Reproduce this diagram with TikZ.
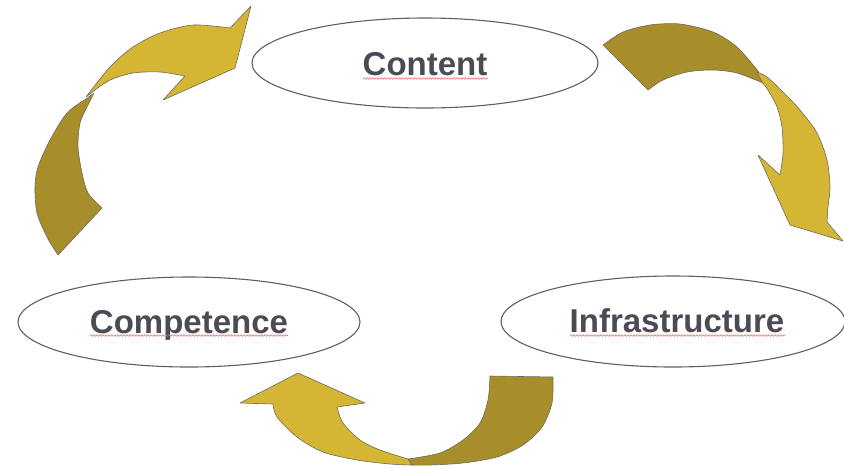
\documentclass[tikz,border=0pt]{standalone}
\usepackage{fontspec}
\setmainfont{Liberation Sans}
\usetikzlibrary{shapes.geometric,decorations.pathmorphing}
\definecolor{goldlight}{RGB}{213,182,52}
\definecolor{golddark}{RGB}{167,142,43}
\definecolor{arrowline}{RGB}{110,106,92}
\definecolor{ellline}{RGB}{95,95,95}
\definecolor{labelgray}{RGB}{75,75,85}
\definecolor{squigred}{RGB}{232,110,110}
\tikzset{
  lightpart/.style={fill=goldlight,draw=arrowline,line width=0.6pt,line join=round},
  darkpart/.style={fill=golddark,draw=arrowline,line width=0.6pt,line join=round},
  ell/.style={ellipse,draw=ellline,line width=1.1pt,fill=white,inner sep=0pt},
  lbl/.style={anchor=base,inner sep=0pt,text=labelgray,font=\fontsize{33}{36}\selectfont\bfseries},
  squig/.style={draw=squigred,line width=0.6pt,decorate,decoration={snake,amplitude=0.8pt,segment length=3pt}}
}
\begin{document}
\begin{tikzpicture}[x=1pt,y=-1pt]
\useasboundingbox (0,0) rectangle (844,467);
% arrow 1 (left, going up to Content)
\path[darkpart] (86,99) -- plot[smooth] coordinates {(86,99) (67,113) (50,140) (38,167) (35,187) (37,213) (47,237) (58,255)}
  -- (102,208) -- plot[smooth] coordinates {(102,208) (88,193) (82,173) (78,147) (80,123) (87,107) (94,93)} -- cycle;
\path[lightpart] (86,97) -- plot[smooth] coordinates {(86,97) (110,67) (133,47) (160,33) (193,25) (230,28)}
  -- (251,6) -- (235,68) -- (163,100) -- (185,76)
  -- plot[smooth] coordinates {(185,76) (160,72) (133,73) (110,80) (95,90)} -- cycle;
% arrow 2 (right, going down to Infrastructure)
\path[darkpart] (603,45) -- plot[smooth] coordinates {(603,45) (623,32) (650,25) (680,24) (713,32) (737,47) (758,71)}
  -- (763,83) -- plot[smooth] coordinates {(763,83) (737,73) (713,70) (687,72) (663,80) (648,90)} -- cycle;
\path[lightpart] (757,72) -- plot[smooth] coordinates {(757,72) (767,77) (783,92) (800,110) (817,133) (827,160) (830,187) (828,207) (827,222)}
  -- (843,241) -- (790,225) -- (758,155) -- (780,175)
  -- plot[smooth] coordinates {(780,175) (783,153) (782,127) (777,107) (768,90) (762,82)} -- cycle;
% arrow 3 (bottom, going left to Competence)
\path[darkpart] (408,459) -- plot[smooth] coordinates {(408,459) (440,453) (463,440) (480,423) (488,400) (490,376)}
  -- (553,377) -- plot[smooth] coordinates {(553,377) (552,403) (542,427) (523,445) (497,457) (463,463) (430,465) (412,465)} -- cycle;
\path[lightpart] (298,373) -- (365,403) -- (337,407)
  -- plot[smooth] coordinates {(337,407) (343,423) (360,440) (380,450) (408,459)}
  -- (412,465) -- plot[smooth] coordinates {(412,465) (390,464) (357,460) (323,452) (297,437) (277,417) (273,404)}
  -- (240,403) -- cycle;
% ellipses
\node[ell,minimum width=346pt,minimum height=90pt] (content) at (425,63) {};
\node[ell,minimum width=342pt,minimum height=90pt] (competence) at (189,322) {};
\node[ell,minimum width=344pt,minimum height=91pt] (infra) at (673,321.5) {};
% labels
\node[lbl] (contentlbl) at (425,75) {Content};
\node[lbl] (competencelbl) at (189,333) {Competence};
\node[lbl] (infralbl) at (677,332) {Infrastructure};
% spell-check squiggles
\coordinate (sq1a) at (363,78.5); \coordinate (sq1b) at (488,78.5);
\coordinate (sq2a) at (90,335.5); \coordinate (sq2b) at (288,335.5);
\coordinate (sq3a) at (570,335.5); \coordinate (sq3b) at (785,335.5);
\draw[squig] (sq1a) -- (sq1b);
\draw[squig] (sq2a) -- (sq2b);
\draw[squig] (sq3a) -- (sq3b);
\end{tikzpicture}
\end{document}
